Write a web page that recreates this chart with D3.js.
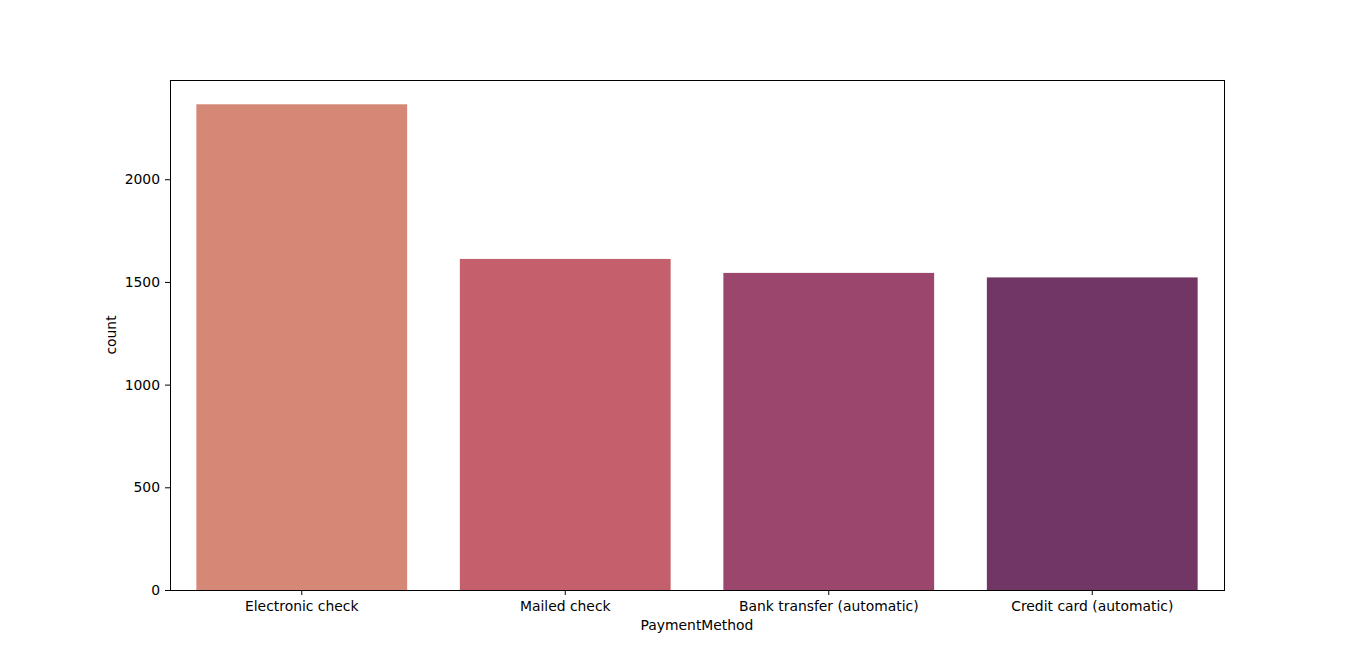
<!DOCTYPE html>
<html>
<head>
<meta charset="utf-8">
<script src="https://cdn.jsdelivr.net/npm/d3@7"></script>
<style>
  body { margin: 0; background: #fff; }
  svg text { font-family: "DejaVu Sans", sans-serif; }
</style>
</head>
<body>
<svg id="chart" width="1360" height="663"></svg>
<script>
const methods = ["Electronic check", "Mailed check", "Bank transfer (automatic)", "Credit card (automatic)"];
const counts = [2365, 1612, 1544, 1522];
const barColours = ["#d68876", "#c4606b", "#9b476d", "#713664"];
const yTicks = [0, 500, 1000, 1500, 2000];

const svg = d3.select("#chart");
const margin = { left: 170, right: 136, top: 80, bottom: 73 };
const width = +svg.attr("width") - margin.left - margin.right;
const height = +svg.attr("height") - margin.top - margin.bottom;

const g = svg.append("g").attr("transform", `translate(${margin.left},${margin.top})`);

const x = d3.scaleBand().domain(methods).range([0, width]).paddingInner(0.2).paddingOuter(0.1);
const y = d3.scaleLinear().domain([0, d3.max(counts) * 1.05]).range([height, 0]);

g.selectAll("rect.bar")
    .data(methods)
    .join("rect")
        .attr("class", "bar")
        .attr("x", d => x(d))
        .attr("width", x.bandwidth())
        .attr("y", (d, i) => y(counts[i]))
        .attr("height", (d, i) => height - y(counts[i]))
        .attr("fill", (d, i) => barColours[i]);

const xAxis = g.append("g")
    .attr("transform", `translate(0,${height})`)
    .call(d3.axisBottom(x).tickSize(5).tickPadding(6).tickSizeOuter(0));
const yAxis = g.append("g")
    .call(d3.axisLeft(y).tickValues(yTicks).tickFormat(d3.format("d")).tickSize(5).tickPadding(5).tickSizeOuter(0));

[xAxis, yAxis].forEach(a => {
    a.select(".domain").remove();
    a.selectAll("text").attr("font-size", 13.9).attr("fill", "#000").attr("font-family", "DejaVu Sans, sans-serif");
    a.selectAll("line").attr("stroke", "#000");
});

// frame
g.append("rect")
    .attr("x", 0.5)
    .attr("y", 0.5)
    .attr("width", width)
    .attr("height", height)
    .attr("fill", "none")
    .attr("stroke", "#000")
    .attr("stroke-width", 1);

svg.append("text")
    .attr("x", margin.left + width / 2)
    .attr("y", 630)
    .attr("text-anchor", "middle")
    .attr("font-size", 13.9)
    .text("PaymentMethod");

svg.append("text")
    .attr("transform", `translate(116,${margin.top + height / 2}) rotate(-90)`)
    .attr("text-anchor", "middle")
    .attr("font-size", 13.9)
    .text("count");
</script>
</body>
</html>
